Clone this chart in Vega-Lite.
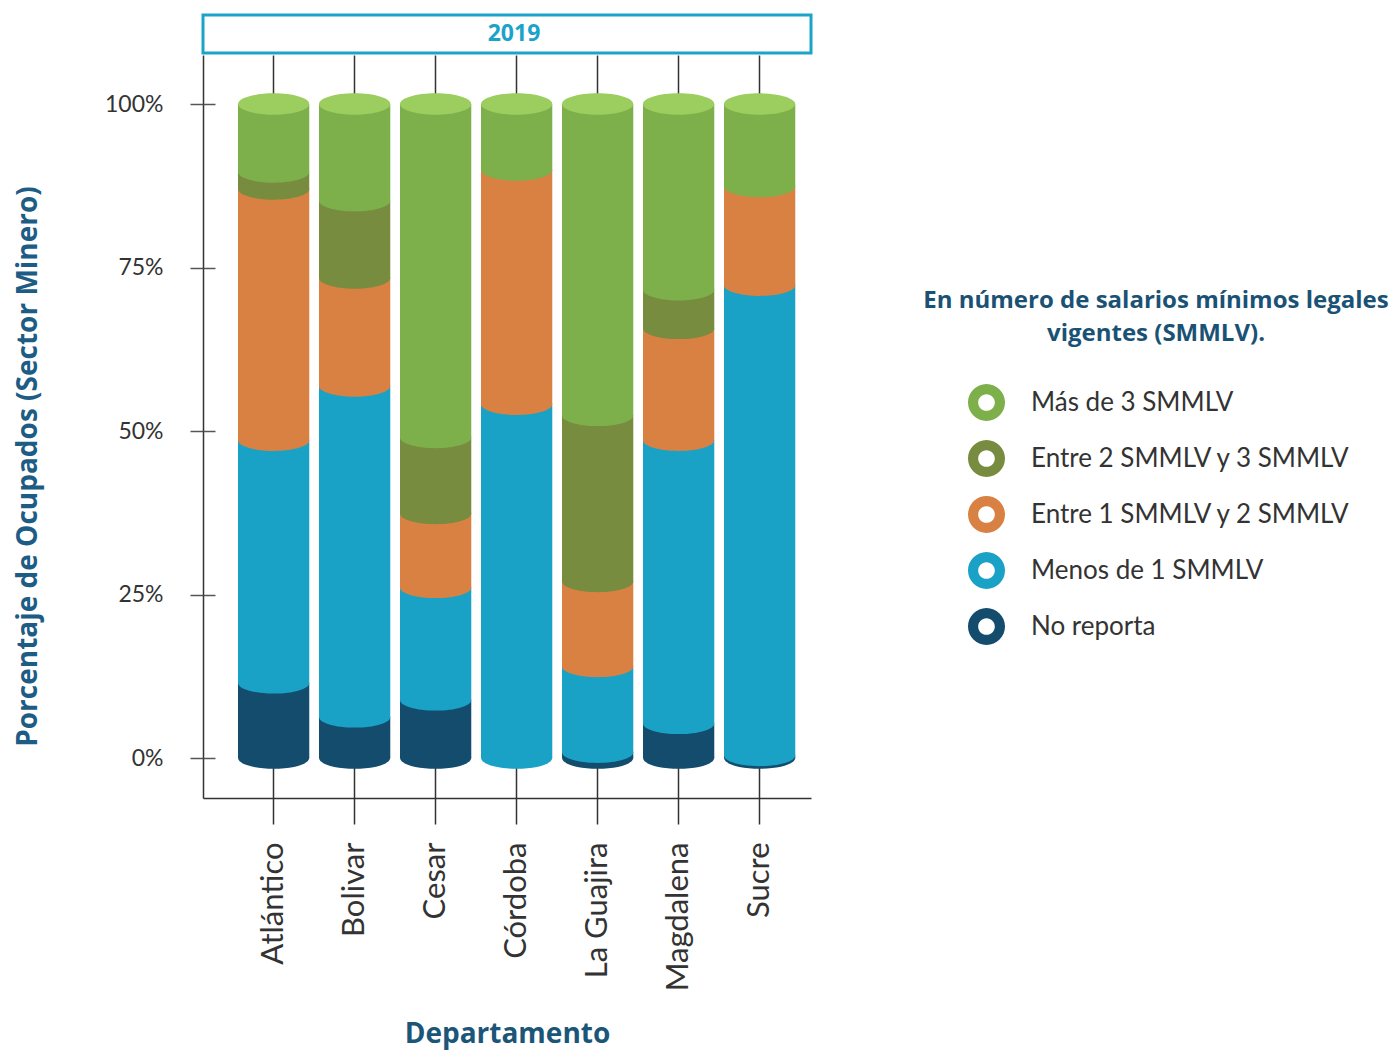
{
  "$schema": "https://vega.github.io/schema/vega-lite/v6.json",
  "background": "white",
  "padding": {"left": 14, "top": 13, "right": 0, "bottom": 4},
  "config": {"font": "Lato", "view": {"stroke": null}},
  "datasets": {
    "main": [
      {"dep": "Atlántico", "cat": "No reporta", "orden": 1, "valor": 11.5},
      {"dep": "Atlántico", "cat": "Menos de 1 SMMLV", "orden": 2, "valor": 37.1},
      {"dep": "Atlántico", "cat": "Entre 1 SMMLV y 2 SMMLV", "orden": 3, "valor": 38.4},
      {"dep": "Atlántico", "cat": "Entre 2 SMMLV y 3 SMMLV", "orden": 4, "valor": 2.6},
      {"dep": "Atlántico", "cat": "Más de 3 SMMLV", "orden": 5, "valor": 10.4},
      {"dep": "Bolivar", "cat": "No reporta", "orden": 1, "valor": 6.3},
      {"dep": "Bolivar", "cat": "Menos de 1 SMMLV", "orden": 2, "valor": 50.6},
      {"dep": "Bolivar", "cat": "Entre 1 SMMLV y 2 SMMLV", "orden": 3, "valor": 16.5},
      {"dep": "Bolivar", "cat": "Entre 2 SMMLV y 3 SMMLV", "orden": 4, "valor": 11.8},
      {"dep": "Bolivar", "cat": "Más de 3 SMMLV", "orden": 5, "valor": 14.8},
      {"dep": "Cesar", "cat": "No reporta", "orden": 1, "valor": 8.9},
      {"dep": "Cesar", "cat": "Menos de 1 SMMLV", "orden": 2, "valor": 17.2},
      {"dep": "Cesar", "cat": "Entre 1 SMMLV y 2 SMMLV", "orden": 3, "valor": 11.3},
      {"dep": "Cesar", "cat": "Entre 2 SMMLV y 3 SMMLV", "orden": 4, "valor": 11.6},
      {"dep": "Cesar", "cat": "Más de 3 SMMLV", "orden": 5, "valor": 51.0},
      {"dep": "Córdoba", "cat": "No reporta", "orden": 1, "valor": 0},
      {"dep": "Córdoba", "cat": "Menos de 1 SMMLV", "orden": 2, "valor": 54.1},
      {"dep": "Córdoba", "cat": "Entre 1 SMMLV y 2 SMMLV", "orden": 3, "valor": 35.8},
      {"dep": "Córdoba", "cat": "Entre 2 SMMLV y 3 SMMLV", "orden": 4, "valor": 0},
      {"dep": "Córdoba", "cat": "Más de 3 SMMLV", "orden": 5, "valor": 10.1},
      {"dep": "La Guajira", "cat": "No reporta", "orden": 1, "valor": 0.9},
      {"dep": "La Guajira", "cat": "Menos de 1 SMMLV", "orden": 2, "valor": 13.1},
      {"dep": "La Guajira", "cat": "Entre 1 SMMLV y 2 SMMLV", "orden": 3, "valor": 13.0},
      {"dep": "La Guajira", "cat": "Entre 2 SMMLV y 3 SMMLV", "orden": 4, "valor": 25.4},
      {"dep": "La Guajira", "cat": "Más de 3 SMMLV", "orden": 5, "valor": 47.6},
      {"dep": "Magdalena", "cat": "No reporta", "orden": 1, "valor": 5.3},
      {"dep": "Magdalena", "cat": "Menos de 1 SMMLV", "orden": 2, "valor": 43.3},
      {"dep": "Magdalena", "cat": "Entre 1 SMMLV y 2 SMMLV", "orden": 3, "valor": 17.1},
      {"dep": "Magdalena", "cat": "Entre 2 SMMLV y 3 SMMLV", "orden": 4, "valor": 5.9},
      {"dep": "Magdalena", "cat": "Más de 3 SMMLV", "orden": 5, "valor": 28.4},
      {"dep": "Sucre", "cat": "No reporta", "orden": 1, "valor": 0.4},
      {"dep": "Sucre", "cat": "Menos de 1 SMMLV", "orden": 2, "valor": 71.9},
      {"dep": "Sucre", "cat": "Entre 1 SMMLV y 2 SMMLV", "orden": 3, "valor": 15.1},
      {"dep": "Sucre", "cat": "Entre 2 SMMLV y 3 SMMLV", "orden": 4, "valor": 0},
      {"dep": "Sucre", "cat": "Más de 3 SMMLV", "orden": 5, "valor": 12.6}
    ]
  },
  "spacing": 0,
  "vconcat": [
    {
      "width": 608,
      "height": 38,
      "data": {"values": [{"anio": "2019"}]},
      "view": {"stroke": "#1ba3c9", "strokeWidth": 3},
      "mark": {"type": "text", "font": "Open Sans", "fontSize": 23, "fontWeight": "bold", "color": "#1ba3c9", "baseline": "middle", "align": "center", "dx": 7},
      "encoding": {"text": {"field": "anio"}}
    },
    {
      "width": 608,
      "height": 743,
      "data": {"name": "main"},
      "transform": [
        {"stack": "valor", "groupby": ["dep"], "sort": [{"field": "orden"}], "as": ["y0", "y1"]}
      ],
      "encoding": {
        "x": {
          "field": "dep",
          "type": "nominal",
          "sort": ["Atlántico", "Bolivar", "Cesar", "Córdoba", "La Guajira", "Magdalena", "Sucre"],
          "scale": {"paddingInner": 0.12, "paddingOuter": 0.313, "align": 0.69},
          "axis": {
            "title": "Departamento",
            "titleFont": "Open Sans",
            "titleFontSize": 28,
            "titleFontWeight": "bold",
            "titleColor": "#1b5678",
            "titlePadding": 30,
            "labelAngle": -90,
            "labelFontSize": 31,
            "labelColor": "#333333",
            "labelPadding": 18,
            "tickSize": 26,
            "tickColor": "#333333",
            "tickWidth": 1.5,
            "domainColor": "#333333",
            "domainWidth": 1.5,
            "grid": true,
            "gridColor": "#333333",
            "gridWidth": 1.5,
            "bandPosition": 0.5
          }
        }
      },
      "layer": [
        {
          "mark": {"type": "bar"},
          "encoding": {
            "y": {
              "field": "y0",
              "type": "quantitative",
              "scale": {"domain": [-6.1, 107.5], "nice": false, "zero": false},
              "axis": {
                "values": [0, 25, 50, 75, 100],
                "labelExpr": "datum.value + '%'",
                "title": "Porcentaje de Ocupados (Sector Minero)",
                "titleFont": "Open Sans",
                "titleFontSize": 28,
                "titleFontWeight": "bold",
                "titleColor": "#1d5c84",
                "titlePadding": 62,
                "titleY": 411,
                "labelFontSize": 23,
                "labelColor": "#333333",
                "labelPadding": 27,
                "tickSize": 13,
                "tickColor": "#555555",
                "tickWidth": 1.5,
                "domainColor": "#333333",
                "domainWidth": 1.5,
                "grid": false
              }
            },
            "y2": {"field": "y1"},
            "color": {
              "field": "cat",
              "type": "nominal",
              "scale": {
                "domain": ["Más de 3 SMMLV", "Entre 2 SMMLV y 3 SMMLV", "Entre 1 SMMLV y 2 SMMLV", "Menos de 1 SMMLV", "No reporta"],
                "range": ["#7daf4b", "#778c3e", "#d98142", "#19a2c6", "#134c6c"]
              },
              "legend": {
                "orient": "none",
                "legendX": 720,
                "legendY": 274,
                "title": ["En número de salarios mínimos legales", "vigentes  (SMMLV)."],
                "titleFont": "Open Sans",
                "titleFontSize": 24,
                "titleFontWeight": "bold",
                "titleColor": "#1a5275",
                "titleAnchor": "middle",
                "titleAlign": "center",
                "titleLimit": 700,
                "titleLineHeight": 33,
                "titlePadding": 38,
                "symbolType": "M-1,0A1,1,0,1,0,1,0A1,1,0,1,0,-1,0ZM-0.45,0A0.45,0.45,0,1,1,0.45,0A0.45,0.45,0,1,1,-0.45,0Z",
                "symbolSize": 1369,
                "symbolStrokeWidth": 0,
                "symbolOpacity": 1,
                "symbolOffset": 6,
                "labelFontSize": 26,
                "labelColor": "#333333",
                "labelOffset": 26,
                "labelLimit": 500,
                "rowPadding": 19
              }
            }
          }
        },
        {
          "transform": [{"filter": "datum.valor > 0"}],
          "mark": {
            "type": "point",
            "shape": "M-1,0A1,0.3,0,1,0,1,0A1,0.3,0,1,0,-1,0Z",
            "filled": true,
            "size": 5070,
            "opacity": 1,
            "strokeWidth": 0
          },
          "encoding": {
            "y": {
              "field": "y0",
              "type": "quantitative",
              "axis": {
                "orient": "left",
                "values": [0, 25, 50, 75, 100],
                "labels": false,
                "domain": false,
                "title": null,
                "grid": false,
                "tickSize": -12,
                "tickColor": "#555555",
                "tickWidth": 1.5
              }
            },
            "color": {"field": "cat", "type": "nominal", "legend": null},
            "order": {"field": "orden"}
          }
        },
        {
          "transform": [{"filter": "datum.orden == 5"}],
          "mark": {
            "type": "point",
            "shape": "M-1,0A1,0.3,0,1,0,1,0A1,0.3,0,1,0,-1,0Z",
            "filled": true,
            "size": 5070,
            "opacity": 1,
            "strokeWidth": 0,
            "color": "#9ccd5f"
          },
          "encoding": {
            "y": {"field": "y1", "type": "quantitative", "axis": null}
          }
        }
      ],
      "resolve": {"axis": {"y": "independent"}}
    }
  ]
}
